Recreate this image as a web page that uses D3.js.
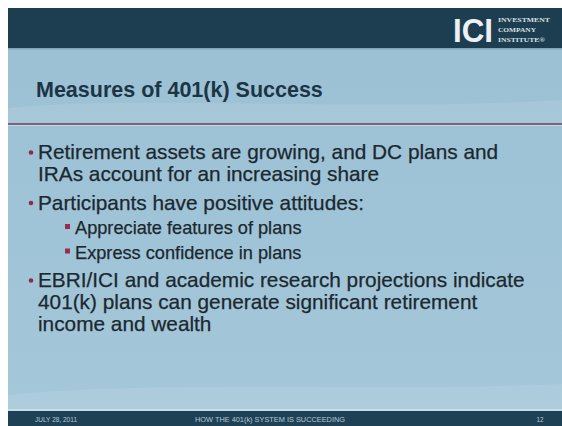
<!doctype html>
<html>
<head>
<script src="https://d3js.org/d3.v7.min.js"></script>
<style>
body { margin: 0; background: #fff; }
svg { display: block; }
</style>
</head>
<body>
<svg width="562" height="426"></svg>
<script>
// slide content
var title = "Measures of 401(k) Success";
var lineText = [
  "Retirement assets are growing, and DC plans and",
  "IRAs account for an increasing share",
  "Participants have positive attitudes:",
  "Appreciate features of plans",
  "Express confidence in plans",
  "EBRI/ICI and academic research projections indicate",
  "401(k) plans can generate significant retirement",
  "income and wealth"
];
var lineLevel = [1, 1, 1, 2, 2, 1, 1, 1];
var lineBullet = [true, false, true, true, true, true, false, false];
var footerText = ["JULY 28, 2011", "HOW THE 401(k) SYSTEM IS SUCCEEDING", "12"];
var logoText = ["INVESTMENT", "COMPANY", "INSTITUTE"];

var svg = d3.select("svg"),
    W = 562, H = 426;
var font = "'Liberation Sans', Arial, sans-serif";

var defs = svg.append("defs");
var bg = defs.append("linearGradient").attr("id", "bg")
  .attr("x1", 0).attr("y1", 0).attr("x2", 0).attr("y2", 1);
bg.append("stop").attr("offset", "0%").attr("stop-color", "#9bbfd3");
bg.append("stop").attr("offset", "50%").attr("stop-color", "#a0c4d7");
bg.append("stop").attr("offset", "100%").attr("stop-color", "#a4c7d9");

// slide body
svg.append("rect").attr("x", 8).attr("y", 8).attr("width", W - 8).attr("height", H - 8)
  .attr("fill", "url(#bg)");

// light swooshes
svg.append("path")
  .attr("d", "M8,108 C150,95 350,112 562,100 L562,124 L8,124 Z")
  .attr("fill", "#ffffff").attr("opacity", 0.10);
svg.append("path")
  .attr("d", "M8,395 C160,380 380,392 562,384 L562,409 L8,409 Z")
  .attr("fill", "#ffffff").attr("opacity", 0.10);

// header
svg.append("rect").attr("x", 8).attr("y", 8).attr("width", W - 8).attr("height", 40)
  .attr("fill", "#1d3e50");
svg.append("rect").attr("x", 8).attr("y", 48).attr("width", W - 8).attr("height", 1.5)
  .attr("fill", "#7fa3b8");

// logo
svg.append("text").attr("x", 453).attr("y", 42)
  .attr("textLength", 40).attr("lengthAdjust", "spacingAndGlyphs")
  .style("font-family", font).style("font-weight", "bold").style("font-size", "34px")
  .attr("fill", "#eef1f3").text("ICI");
svg.append("g").selectAll("text").data(logoText).join("text")
  .attr("x", 498)
  .attr("y", function(d, i) { return 21.5 + i * 10; })
  .style("font-family", "'Liberation Serif', 'DejaVu Serif', serif")
  .style("font-size", "7px").style("font-weight", "bold")
  .attr("fill", "#d9e1e6")
  .attr("textLength", function(d, i) { return [52, 38, 47][i]; })
  .attr("lengthAdjust", "spacingAndGlyphs")
  .text(function(d, i) { return i === 2 ? d + "\u00AE" : d; });

// title
svg.append("text").attr("x", 36).attr("y", 97)
  .style("font-family", font).style("font-weight", "bold").style("font-size", "21.5px")
  .attr("fill", "#1b3545").text(title);

// divider
svg.append("rect").attr("x", 8).attr("y", 123).attr("width", W - 8).attr("height", 2)
  .attr("fill", "#80607c");
svg.append("rect").attr("x", 8).attr("y", 125).attr("width", W - 8).attr("height", 1)
  .attr("fill", "#c6d8e3");

// bullets - work out baselines
var ys = [], y = 159;
lineText.forEach(function(t, i) {
  if (i > 0) {
    if (lineLevel[i] === 2) y += 24.5;
    else if (lineBullet[i]) y += 28.5;
    else y += 22;
  }
  ys.push(y);
});

var body = svg.append("g");
body.selectAll("text").data(lineText).join("text")
  .attr("x", function(d, i) { return lineLevel[i] === 1 ? 38 : 75; })
  .attr("y", function(d, i) { return ys[i]; })
  .style("font-family", font)
  .style("font-size", function(d, i) { return lineLevel[i] === 1 ? "20.8px" : "18.2px"; })
  .attr("fill", "#1c282f")
  .attr("stroke", "#1c282f").attr("stroke-width", 0.25)
  .text(function(d) { return d; });

body.selectAll("circle").data(lineText.filter(function(d, i) { return lineBullet[i] && lineLevel[i] === 1; }))
  .join("circle")
  .attr("cx", 31)
  .attr("cy", function(d) { return ys[lineText.indexOf(d)] - 6.5; })
  .attr("r", 2.3)
  .attr("fill", "#8e2a4c");

body.selectAll("rect.sq").data(lineText.filter(function(d, i) { return lineLevel[i] === 2; }))
  .join("rect").attr("class", "sq")
  .attr("x", 65)
  .attr("y", function(d) { return ys[lineText.indexOf(d)] - 10; })
  .attr("width", 5).attr("height", 5)
  .attr("fill", "#9a2d4f");

// footer
svg.append("rect").attr("x", 8).attr("y", 409).attr("width", W - 8).attr("height", 2)
  .attr("fill", "#c9dde8");
svg.append("rect").attr("x", 8).attr("y", 411).attr("width", W - 8).attr("height", H - 411)
  .attr("fill", "#1f4155");
var fx = [35, 270, 540];
var fa = ["start", "middle", "middle"];
svg.append("g").selectAll("text").data(footerText).join("text")
  .attr("x", function(d, i) { return fx[i]; })
  .attr("y", 421.5)
  .attr("text-anchor", function(d, i) { return fa[i]; })
  .attr("textLength", function(d, i) { return [42, 150, 7][i]; })
  .attr("lengthAdjust", "spacingAndGlyphs")
  .style("font-family", font).style("font-size", "6.5px")
  .attr("fill", "#b6c9d4")
  .text(function(d) { return d; });
</script>
</body>
</html>
